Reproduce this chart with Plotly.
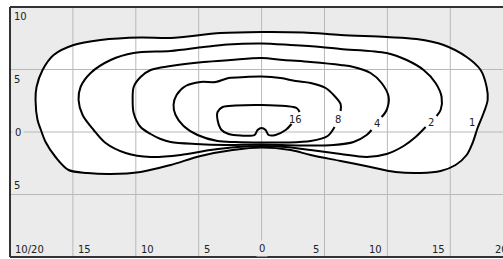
import plotly.graph_objects as go

# ---- data (degrees) ----
x_ticks = [-20, -15, -10, -5, 0, 5, 10, 15, 20]
x_tick_text = ["10/20", "15", "10", "5", "0", "5", "10", "15", "20"]
y_ticks = [10, 5, 0, -5]
y_tick_text = ["10", "5", "0", "5"]

levels = ["1", "2", "4", "8", "16"]

c1_x = [17.17, 16.77, 16.30, 15.42, 14.23, 12.64, 10.65, 8.66, 6.28, 3.90, 2.31, 0.0,
        -2.31, -4.85, -7.23, -9.62, -12.0, -13.83, -15.34, -16.38, -17.17, -17.57, -17.81,
        -17.97, -17.89, -17.41, -16.53, -14.94, -12.80, -9.62, -7.23, -3.26, 0.0, 3.34,
        6.28, 9.94, 12.32, 14.47, 16.30, 17.41, 17.89, 17.97, 17.65, 17.17]
c1_y = [0.32, -0.88, -1.84, -2.64, -3.12, -3.28, -3.20, -2.80, -2.32, -1.84, -1.44, -1.24,
        -1.44, -1.92, -2.64, -3.20, -3.36, -3.28, -3.04, -2.00, -0.80, 0.24, 0.96,
        2.56, 3.60, 4.96, 6.16, 6.96, 7.36, 7.56, 7.52, 7.92, 8.00, 7.96,
        7.76, 7.60, 7.44, 6.96, 6.00, 4.96, 3.60, 2.56, 1.52, 0.32]

c2_x = [13.04, 12.24, 11.29, 9.94, 8.35, 6.28, 3.90, 1.91, 0.0, -1.91, -4.05, -6.44,
        -8.82, -10.81, -12.40, -13.35, -14.23, -14.55, -14.39, -13.59, -12.0, -10.17,
        -7.23, -4.61, -2.70, 0.0, 2.31, 4.69, 6.28, 9.94, 11.53, 12.88, 13.83, 14.31,
        14.23, 13.91]
c2_y = [0.40, -0.40, -1.12, -1.76, -2.00, -1.76, -1.44, -1.20, -1.12, -1.20, -1.44, -1.84,
        -2.00, -1.68, -0.88, 0.16, 1.36, 2.56, 3.60, 4.72, 5.76, 6.32,
        6.48, 6.80, 7.00, 7.08, 6.96, 6.80, 6.64, 6.32, 5.76, 4.96, 3.92, 2.80,
        1.76, 1.28]

c4_x = [8.74, 8.35, 7.31, 5.72, 3.10, 0.0, -2.86, -5.25, -7.23, -8.03, -8.82, -9.62,
        -10.17, -10.25, -10.17, -9.62, -8.82, -7.23, -4.61, -2.46, 0.0, 1.75, 3.90,
        6.28, 7.31, 8.66, 9.54, 10.10, 9.94, 9.54]
c4_y = [0.16, -0.24, -0.80, -1.04, -1.08, -1.00, -1.04, -0.96, -0.80, -0.56, -0.16, 0.40,
        1.52, 2.56, 3.60, 4.40, 4.96, 5.28, 5.60, 5.76, 5.92, 5.76, 5.60,
        5.36, 5.20, 4.72, 3.92, 2.80, 1.76, 1.20]

c8_x = [5.80, 5.25, 3.90, 1.91, 0.0, -2.07, -3.50, -5.09, -6.20, -6.84, -7.00, -6.76,
        -6.04, -4.85, -3.66, -2.62, -1.27, 0.0, 1.51, 2.70, 3.90, 5.09, 5.80, 6.28, 6.28]
c8_y = [0.40, -0.32, -0.72, -0.84, -0.84, -0.80, -0.72, -0.24, 0.48, 1.36, 2.16, 2.96,
        3.68, 4.00, 4.00, 4.32, 4.40, 4.44, 4.32, 4.08, 3.92, 3.52, 2.88, 2.24, 1.68]

c16_x = [2.38, 1.91, 1.11, 0.56, 0.32, 0.0, -0.32, -0.56, -1.67, -2.62, -3.18, -3.50,
         -3.50, -3.10, -2.07, 0.0, 1.91, 2.78, 3.02]
c16_y = [0.64, 0.16, -0.24, -0.24, 0.16, 0.32, 0.16, -0.24, -0.28, -0.16, 0.16, 0.96,
         1.60, 2.00, 2.12, 2.16, 2.08, 1.92, 1.60]

label_x = [16.69, 13.43, 9.14, 6.04, 2.70]
label_y = [0.80, 0.80, 0.72, 1.04, 1.04]

# ---- figure ----
BG = "#ebebeb"
GRID = "#b9b9b9"
BORDER = "#333333"
FONT = "DejaVu Sans"
TXT = dict(family=FONT, size=10, color="#222")
X_MIN, X_MAX = -20, 19.19
Y_MIN, Y_MAX = -10, 10

fig = go.Figure()

# white area inside outermost contour
fig.add_trace(go.Scatter(x=c1_x, y=c1_y, mode="lines", fill="toself", fillcolor="white",
                         line=dict(width=0, shape="spline", smoothing=0.9),
                         hoverinfo="skip", showlegend=False))

# grid lines (drawn over the white area)
for xv in x_ticks[1:]:
    if xv > X_MAX:
        continue
    fig.add_trace(go.Scatter(x=[xv, xv], y=[Y_MIN, Y_MAX], mode="lines",
                             line=dict(color=GRID, width=1), hoverinfo="skip", showlegend=False))
for yv in y_ticks[1:]:
    fig.add_trace(go.Scatter(x=[X_MIN, X_MAX], y=[yv, yv], mode="lines",
                             line=dict(color=GRID, width=1), hoverinfo="skip", showlegend=False))

# contour lines
for cx, cy in [(c1_x, c1_y), (c2_x, c2_y), (c4_x, c4_y), (c8_x, c8_y), (c16_x, c16_y)]:
    fig.add_trace(go.Scatter(x=cx, y=cy, mode="lines",
                             line=dict(color="black", width=2, shape="spline", smoothing=0.9),
                             hoverinfo="skip", showlegend=False))

annotations = []
for t, lx, ly in zip(levels, label_x, label_y):
    annotations.append(dict(x=lx, y=ly, text=t, showarrow=False, xref="x", yref="y", font=TXT))

# x tick labels (inside, at bottom)
for xv, t in zip(x_ticks, x_tick_text):
    if xv < 0:
        anc, sh = "left", 3
    elif xv == 0:
        anc, sh = "center", 0
    else:
        anc, sh = "right", -3
    if xv > X_MAX:
        # past the visible right edge: place in paper units so it is still drawn (clipped)
        a = dict(x=(xv - X_MIN) / (X_MAX - X_MIN), xref="paper")
    else:
        a = dict(x=xv, xref="x")
    a.update(y=Y_MIN, yref="y", text=t, showarrow=False,
             xanchor=anc, yanchor="bottom", xshift=sh, yshift=0, font=TXT)
    if xv == 0:
        a.update(bgcolor=BG, borderpad=2)
    annotations.append(a)

# y tick labels (inside, at left)
for yv, t in zip(y_ticks, y_tick_text):
    if yv > 0:
        ya, ys = "top", -2
    elif yv == 0:
        ya, ys = "middle", 0
    else:
        ya, ys = "bottom", 2
    a = dict(x=X_MIN, y=yv, text=t, showarrow=False, xref="x", yref="y",
             xanchor="left", yanchor=ya, xshift=2, yshift=ys, font=TXT)
    if yv == 0:
        a.update(bgcolor=BG, borderpad=2)
    annotations.append(a)

# frame: top, bottom, left (right edge lies outside the visible area)
shapes = [
    dict(type="line", xref="paper", yref="paper", x0=0, x1=1, y0=1, y1=1,
         line=dict(color=BORDER, width=2), layer="above"),
    dict(type="line", xref="paper", yref="paper", x0=0, x1=1, y0=0, y1=0,
         line=dict(color=BORDER, width=2), layer="above"),
    dict(type="line", xref="paper", yref="paper", x0=0, x1=0, y0=0, y1=1,
         line=dict(color=BORDER, width=2), layer="above"),
]

fig.update_layout(
    width=503, height=259,
    margin=dict(l=10, r=0, t=7, b=2),
    paper_bgcolor="white", plot_bgcolor=BG,
    annotations=annotations, shapes=shapes,
    xaxis=dict(range=[X_MIN, X_MAX], showgrid=False, zeroline=False, showticklabels=False,
               ticks="", showline=False, fixedrange=True),
    yaxis=dict(range=[Y_MIN, Y_MAX], showgrid=False, zeroline=False, showticklabels=False,
               ticks="", showline=False, fixedrange=True),
)

fig.write_html("out.html", config={"displayModeBar": False},
               post_script="document.documentElement.style.overflow='hidden';document.body.style.margin='0';document.body.style.overflow='hidden';")
